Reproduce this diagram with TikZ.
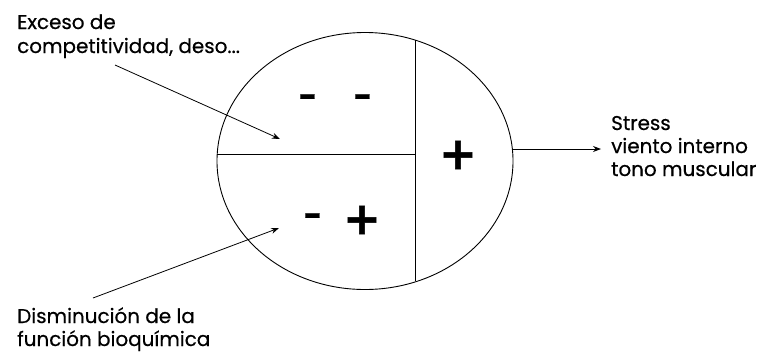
\documentclass[tikz,border=0pt]{standalone}
\usepackage{fontspec}
\setmainfont{Poppins}[FakeBold=0.5]
\newfontfamily\signfont{DejaVu Sans}[FakeBold=1]
\usetikzlibrary{arrows.meta,shapes.geometric}
\begin{document}
\begin{tikzpicture}[x=1bp,y=-1bp,
  lbl/.style={anchor=base west,inner sep=0pt,font=\fontsize{20}{23}\selectfont},
  sgn/.style={inner sep=0pt,font=\fontsize{32}{32}\selectfont\bfseries},
  bigsgn/.style={inner sep=0pt,font=\fontsize{45}{45}\signfont\bfseries},
  arr/.style={-{Stealth[length=8bp,width=6bp]},line width=0.8bp},
  ln/.style={line width=0.9bp}]
\useasboundingbox (0,0) rectangle (761,357);
\node[draw,ln,ellipse,minimum width=296bp,minimum height=257bp,inner sep=0pt] (E) at (365,161) {};
\coordinate (hl) at (217,154);
\coordinate (hr) at (415,154);
\coordinate (vt) at (415,40);
\coordinate (vb) at (415,281);
\draw[ln] (hl) -- (hr);
\draw[ln] (vt) -- (vb);
\node[sgn] (m1) at (308,101) {-};
\node[sgn] (m2) at (363,101) {-};
\node[sgn] (m3) at (313,220) {-};
\node[bigsgn] (p1) at (362,220) {+};
\node[bigsgn] (p2) at (458,155) {+};
\node[lbl] (t1a) at (17,29) {Exceso de};
\node[lbl] (t1b) at (17,53) {competitividad, deso...};
\node[lbl] (t2a) at (17,323) {Disminución de la};
\node[lbl] (t2b) at (17,346) {función bioquímica};
\node[lbl] (t3a) at (611,130) {Stress};
\node[lbl] (t3b) at (611,153) {viento interno};
\node[lbl] (t3c) at (611,176) {tono muscular};
\coordinate (a1s) at (115,65);
\coordinate (a1e) at (280,139);
\coordinate (a2s) at (93,298);
\coordinate (a2e) at (279,228);
\coordinate (a3e) at (601,149);
\draw[arr] (a1s) -- (a1e);
\draw[arr] (a2s) -- (a2e);
\draw[arr] (E.east |- a3e) -- (a3e);
\end{tikzpicture}
\end{document}
